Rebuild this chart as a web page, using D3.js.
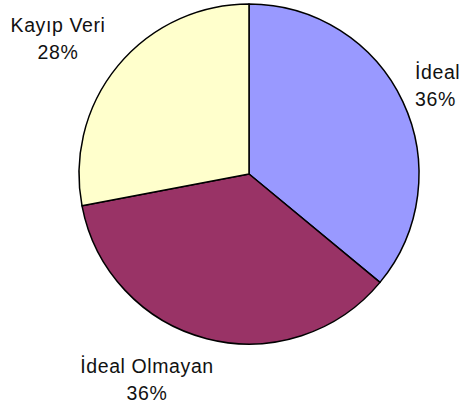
<!DOCTYPE html>
<html>
<head>
	<meta charset="utf-8">
	<script src="https://cdn.jsdelivr.net/npm/d3@7"></script>
	<title>Pie</title>
	<style>
		body { margin: 0; background: #fff; }
	</style>
</head>
<body>
	<script type="text/javascript">

	var categories = ["İdeal", "İdeal Olmayan", "Kayıp Veri"];
	var values = [36, 36, 28];
	var colors = ["#9999FF", "#993366", "#FFFFCC"];

	var widthSvg = 467;
	var heightSvg = 412;
	var cx = 249, cy = 174, radius = 170;
	var fontSize = 19.5;

	var svg = d3.select("body")
			.append("svg")
			.attr("width", widthSvg)
			.attr("height", heightSvg);

	var pie = d3.pie().sort(null).value(function(d) { return d; });
	var arc = d3.arc().innerRadius(0).outerRadius(radius);

	var g = svg.append("g").attr("transform", "translate(" + cx + "," + cy + ")");

	g.selectAll("path")
		.data(pie(values))
		.enter()
		.append("path")
		.attr("d", arc)
		.attr("fill", function(d, i) { return colors[i]; })
		.attr("stroke", "#000")
		.attr("stroke-width", 1.5)
		.attr("stroke-linejoin", "round");

	// label spots
	var labelPos = [
		{ x: 415, y: 79, anchor: "start" },
		{ x: 147, y: 373, anchor: "middle" },
		{ x: 58, y: 32, anchor: "middle" }
	];

	var labels = svg.selectAll("text.lbl")
		.data(categories)
		.enter()
		.append("text")
		.attr("class", "lbl")
		.attr("x", function(d, i) { return labelPos[i].x; })
		.attr("y", function(d, i) { return labelPos[i].y; })
		.attr("text-anchor", function(d, i) { return labelPos[i].anchor; })
		.attr("font-family", "Liberation Sans, Arial, sans-serif")
		.attr("font-size", fontSize)
		.attr("letter-spacing", 0.6)
		.attr("fill", "#111");

	labels.append("tspan").text(function(d) { return d; });
	labels.append("tspan")
		.attr("x", function(d, i) { return labelPos[i].x; })
		.attr("dy", 27)
		.text(function(d, i) { return values[i] + "%"; });

	</script>
</body>
</html>
